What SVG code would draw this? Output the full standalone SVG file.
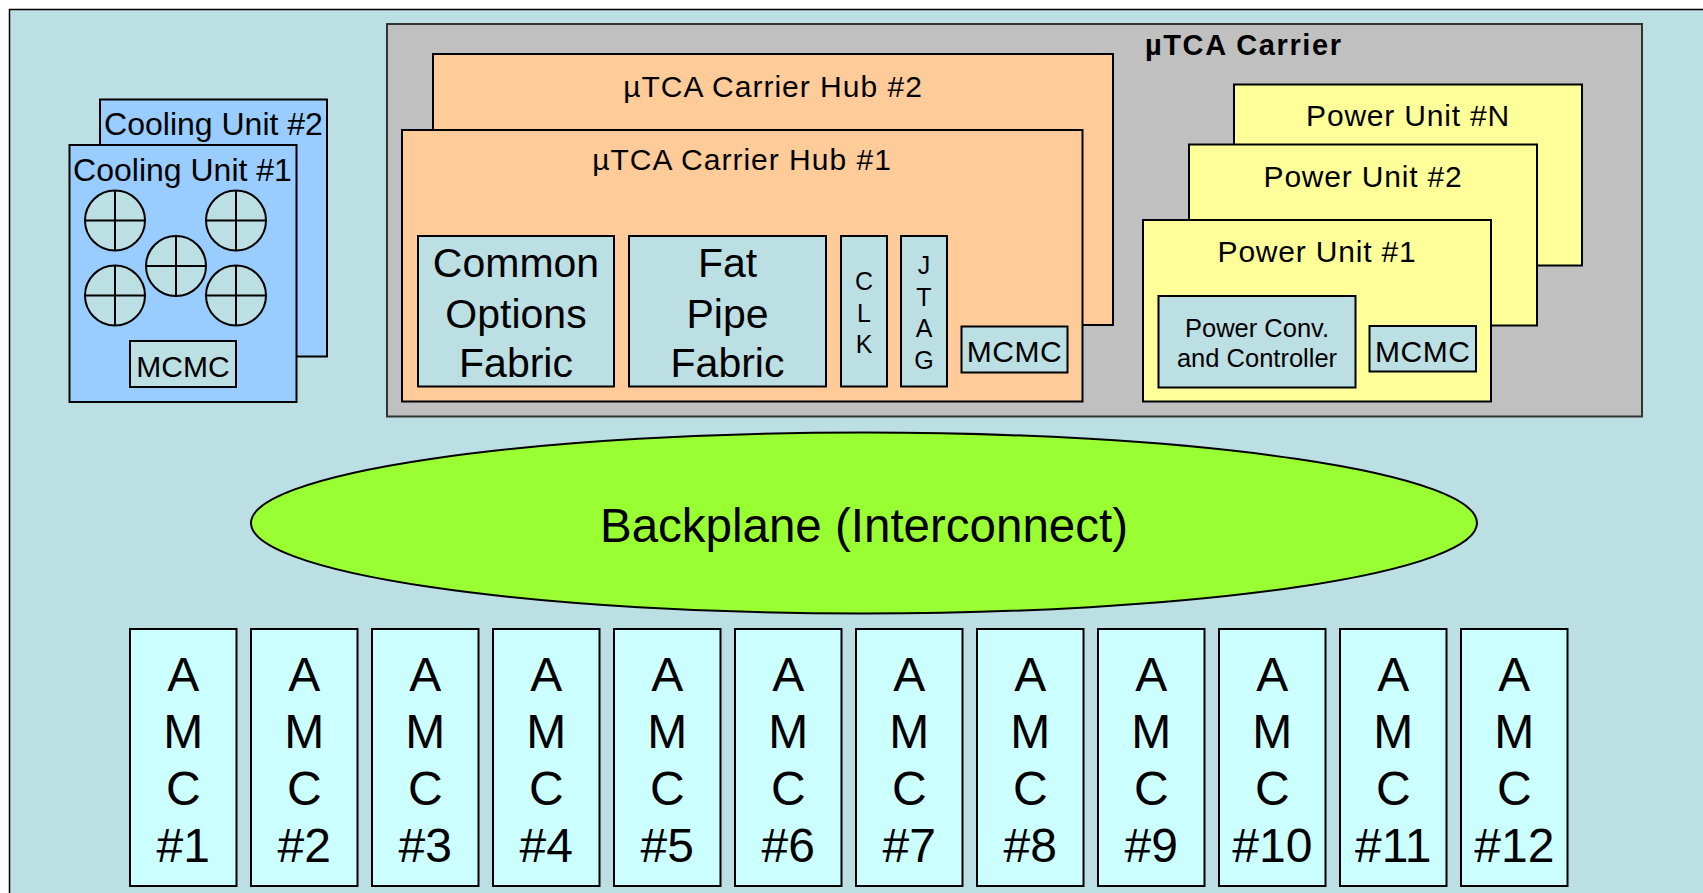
<svg xmlns="http://www.w3.org/2000/svg" width="1703" height="893" viewBox="0 0 1703 893">
<style>
text{font-family:"Liberation Sans",Arial,sans-serif;fill:#000}
.b{stroke:#000;stroke-width:2}
.bg{fill:#BBDFE2}
.cool{fill:#99CCFF}
.hub{fill:#FFCC99}
.pwr{fill:#FFFF99}
.amc{fill:#CCFFFF}
.c{text-anchor:middle}
.t31{font-size:32px}
.t30{font-size:30px}
.hubt{font-size:30px;letter-spacing:1px}
.pt{font-size:30px;letter-spacing:0.8px}
.big{font-size:41px}
.v{font-size:25px}
.amct{font-size:48px}
</style>
<rect width="1703" height="893" fill="#fff"/>
<rect id="frame" x="9.5" y="9.5" width="1720" height="900" class="bg" stroke="#000" stroke-width="1.5"/>

<g id="cooling2">
<rect x="100" y="99.5" width="227" height="257" class="cool b"/>
<text x="213.5" y="135" class="c t31">Cooling Unit #2</text>
</g>
<g id="cooling1">
<rect x="69.5" y="145" width="227" height="257" class="cool b"/>
<text x="182.5" y="181" class="c t31">Cooling Unit #1</text>
<g class="b" fill="#BBDFE2">
<circle cx="115" cy="220.5" r="30"/><path d="M85 220.5H145M115 190.5V250.5"/>
<circle cx="236" cy="220.5" r="30"/><path d="M206 220.5H266M236 190.5V250.5"/>
<circle cx="176" cy="266" r="30"/><path d="M146 266H206M176 236V296"/>
<circle cx="115" cy="295.5" r="30"/><path d="M85 295.5H145M115 265.5V325.5"/>
<circle cx="236" cy="295.5" r="30"/><path d="M206 295.5H266M236 265.5V325.5"/>
</g>
<rect x="130" y="341" width="106" height="46" class="bg b"/>
<text x="183" y="376.5" class="c t30">MCMC</text>
</g>

<g id="carrier">
<rect x="387" y="24" width="1255" height="392.5" fill="#C0C0C0" stroke="#333" stroke-width="2"/>
<text x="1145" y="55" font-size="29" font-weight="bold" letter-spacing="1.6">µTCA Carrier</text>
</g>

<g id="hub2">
<rect x="433" y="54" width="680" height="271" class="hub b"/>
<text x="773" y="97.3" class="c hubt">µTCA Carrier Hub #2</text>
</g>
<g id="hub1">
<rect x="402" y="130" width="680.5" height="271.5" class="hub b"/>
<text x="742" y="170" class="c hubt">µTCA Carrier Hub #1</text>
<g id="common-options-fabric">
<rect x="418" y="236" width="196" height="150.5" class="bg b"/>
<text x="516" y="277.3" class="c big">Common</text>
<text x="516" y="327.5" class="c big">Options</text>
<text x="516" y="377" class="c big">Fabric</text>
</g>
<g id="fat-pipe-fabric">
<rect x="629" y="236" width="197" height="150.5" class="bg b"/>
<text x="727.5" y="277.3" class="c big">Fat</text>
<text x="727.5" y="327.5" class="c big">Pipe</text>
<text x="727.5" y="377" class="c big">Fabric</text>
</g>
<g id="clk">
<rect x="841" y="236" width="46" height="150.5" class="bg b"/>
<text x="864" y="289.5" class="c v">C</text>
<text x="864" y="321.5" class="c v">L</text>
<text x="864" y="353.3" class="c v">K</text>
</g>
<g id="jtag">
<rect x="901" y="236" width="46" height="150.5" class="bg b"/>
<text x="924" y="274" class="c v">J</text>
<text x="924" y="305.7" class="c v">T</text>
<text x="924" y="337.3" class="c v">A</text>
<text x="924" y="369" class="c v">G</text>
</g>
<g id="hub-mcmc">
<rect x="961.5" y="326.5" width="106" height="46" class="bg b"/>
<text x="1014.5" y="361.7" class="c t30" letter-spacing="0.5">MCMC</text>
</g>
</g>

<g id="powerN">
<rect x="1234" y="84.5" width="348" height="181" class="pwr b"/>
<text x="1408" y="126" class="c pt">Power Unit #N</text>
</g>
<g id="power2">
<rect x="1189" y="144.5" width="348" height="181" class="pwr b"/>
<text x="1363" y="186.7" class="c pt">Power Unit #2</text>
</g>
<g id="power1">
<rect x="1143" y="220" width="348" height="181.5" class="pwr b"/>
<text x="1317" y="261.7" class="c pt">Power Unit #1</text>
<g id="power-conv">
<rect x="1158.5" y="296" width="197" height="91.5" class="bg b"/>
<text x="1257" y="336.7" class="c" font-size="25.5">Power Conv.</text>
<text x="1257" y="367.3" class="c" font-size="25.5">and Controller</text>
</g>
<g id="power-mcmc">
<rect x="1369.5" y="326" width="106.5" height="45.5" class="bg b"/>
<text x="1422.7" y="361.7" class="c t30" letter-spacing="0.5">MCMC</text>
</g>
</g>

<g id="backplane">
<ellipse cx="864" cy="523" rx="613" ry="90.5" fill="#99FF33" stroke="#000" stroke-width="2"/>
<text x="864" y="541.7" class="c" font-size="47.5">Backplane (Interconnect)</text>
</g>

<g id="amcs">
<g id="amc1"><rect x="130" y="629" width="106.5" height="257" class="amc b"/><text x="183.3" y="690.7" class="c amct">A</text><text x="183.3" y="748.3" class="c amct">M</text><text x="183.3" y="805" class="c amct">C</text><text x="183.3" y="862.3" class="c amct">#1</text></g>
<g id="amc2"><rect x="251" y="629" width="106.5" height="257" class="amc b"/><text x="304.3" y="690.7" class="c amct">A</text><text x="304.3" y="748.3" class="c amct">M</text><text x="304.3" y="805" class="c amct">C</text><text x="304.3" y="862.3" class="c amct">#2</text></g>
<g id="amc3"><rect x="372" y="629" width="106.5" height="257" class="amc b"/><text x="425.3" y="690.7" class="c amct">A</text><text x="425.3" y="748.3" class="c amct">M</text><text x="425.3" y="805" class="c amct">C</text><text x="425.3" y="862.3" class="c amct">#3</text></g>
<g id="amc4"><rect x="493" y="629" width="106.5" height="257" class="amc b"/><text x="546.3" y="690.7" class="c amct">A</text><text x="546.3" y="748.3" class="c amct">M</text><text x="546.3" y="805" class="c amct">C</text><text x="546.3" y="862.3" class="c amct">#4</text></g>
<g id="amc5"><rect x="614" y="629" width="106.5" height="257" class="amc b"/><text x="667.3" y="690.7" class="c amct">A</text><text x="667.3" y="748.3" class="c amct">M</text><text x="667.3" y="805" class="c amct">C</text><text x="667.3" y="862.3" class="c amct">#5</text></g>
<g id="amc6"><rect x="735" y="629" width="106.5" height="257" class="amc b"/><text x="788.3" y="690.7" class="c amct">A</text><text x="788.3" y="748.3" class="c amct">M</text><text x="788.3" y="805" class="c amct">C</text><text x="788.3" y="862.3" class="c amct">#6</text></g>
<g id="amc7"><rect x="856" y="629" width="106.5" height="257" class="amc b"/><text x="909.3" y="690.7" class="c amct">A</text><text x="909.3" y="748.3" class="c amct">M</text><text x="909.3" y="805" class="c amct">C</text><text x="909.3" y="862.3" class="c amct">#7</text></g>
<g id="amc8"><rect x="977" y="629" width="106.5" height="257" class="amc b"/><text x="1030.3" y="690.7" class="c amct">A</text><text x="1030.3" y="748.3" class="c amct">M</text><text x="1030.3" y="805" class="c amct">C</text><text x="1030.3" y="862.3" class="c amct">#8</text></g>
<g id="amc9"><rect x="1098" y="629" width="106.5" height="257" class="amc b"/><text x="1151.3" y="690.7" class="c amct">A</text><text x="1151.3" y="748.3" class="c amct">M</text><text x="1151.3" y="805" class="c amct">C</text><text x="1151.3" y="862.3" class="c amct">#9</text></g>
<g id="amc10"><rect x="1219" y="629" width="106.5" height="257" class="amc b"/><text x="1272.3" y="690.7" class="c amct">A</text><text x="1272.3" y="748.3" class="c amct">M</text><text x="1272.3" y="805" class="c amct">C</text><text x="1272.3" y="862.3" class="c amct">#10</text></g>
<g id="amc11"><rect x="1340" y="629" width="106.5" height="257" class="amc b"/><text x="1393.3" y="690.7" class="c amct">A</text><text x="1393.3" y="748.3" class="c amct">M</text><text x="1393.3" y="805" class="c amct">C</text><text x="1393.3" y="862.3" class="c amct">#11</text></g>
<g id="amc12"><rect x="1461" y="629" width="106.5" height="257" class="amc b"/><text x="1514.3" y="690.7" class="c amct">A</text><text x="1514.3" y="748.3" class="c amct">M</text><text x="1514.3" y="805" class="c amct">C</text><text x="1514.3" y="862.3" class="c amct">#12</text></g>
</g>
</svg>
